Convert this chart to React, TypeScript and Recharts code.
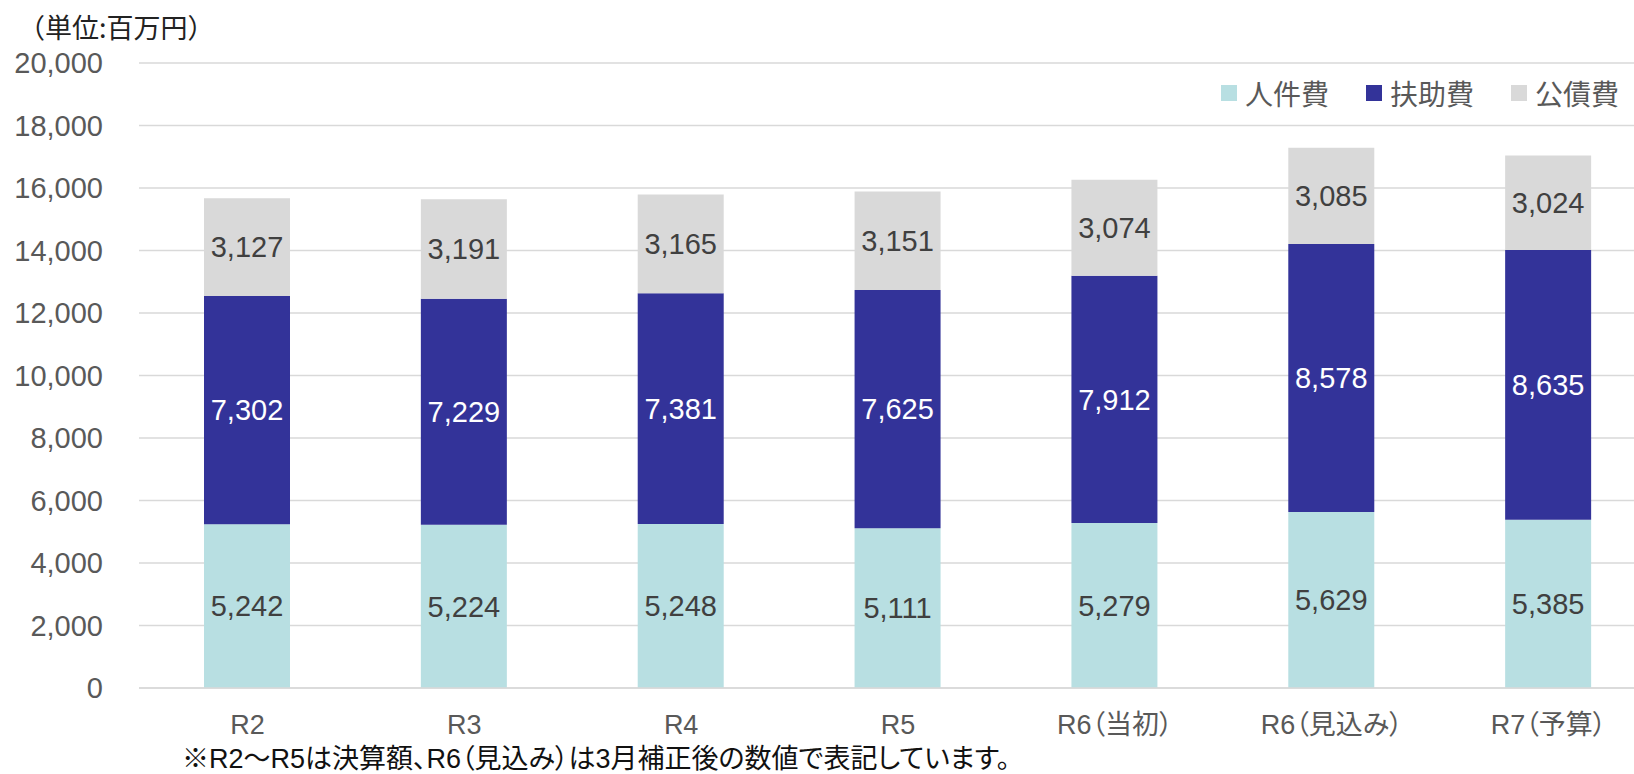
import { BarChart, Bar, XAxis, YAxis, CartesianGrid, LabelList } from 'recharts';

const categories = ['R2', 'R3', 'R4', 'R5', 'R6（当初）', 'R6（見込み）', 'R7（予算）'];
const personnel = [5242, 5224, 5248, 5111, 5279, 5629, 5385];
const assistance = [7302, 7229, 7381, 7625, 7912, 8578, 8635];
const debt = [3127, 3191, 3165, 3151, 3074, 3085, 3024];
const yTicks = [0, 2000, 4000, 6000, 8000, 10000, 12000, 14000, 16000, 18000, 20000];

const series = [
  { key: 'personnel', name: '人件費', color: '#b8dfe2', text: '#404040' },
  { key: 'assistance', name: '扶助費', color: '#333399', text: '#ffffff' },
  { key: 'debt', name: '公債費', color: '#d9d9d9', text: '#404040' },
];

const data = categories.map((name, i) => ({
  name,
  personnel: personnel[i],
  assistance: assistance[i],
  debt: debt[i],
}));

const LATIN = '"Liberation Sans", Arial, "Noto Sans CJK JP", sans-serif';
const CJK = '"Noto Sans CJK JP", "Liberation Sans", sans-serif';

const XTick = ({ x, y, payload }: { x?: number; y?: number; payload?: { value: string } }) => (
  <text
    x={x}
    y={(y ?? 0) + 35}
    textAnchor="middle"
    dominantBaseline="central"
    fill="#595959"
    fontSize={27}
    style={{ fontFamily: LATIN, fontFeatureSettings: '"palt"' }}
  >
    {payload?.value}
  </text>
);

// legend drawn as an overlay so it doesn't eat into the plot area
const ChartLegend = () => (
  <div style={{ position: 'absolute', left: 1221, top: 79, display: 'flex', alignItems: 'center', fontFamily: CJK, whiteSpace: 'nowrap' }}>
    {series.map((s) => (
      <div key={s.key} style={{ display: 'flex', alignItems: 'center', marginRight: 37 }}>
        <span style={{ width: 16, height: 16, background: s.color, display: 'inline-block', marginRight: 8 }} />
        <span style={{ fontSize: 28, lineHeight: '28px', color: '#595959' }}>{s.name}</span>
      </div>
    ))}
  </div>
);

export default function App() {
  return (
    <div style={{ position: 'fixed', left: 0, top: 0, width: 1634, height: 774, overflow: 'hidden', background: '#fff' }}>
      <div style={{ position: 'absolute', left: 18, top: 13, fontSize: 27, lineHeight: '28px', color: '#222', fontFamily: CJK }}>
        （単位:百万円）
      </div>
      <BarChart
        width={1700}
        height={774}
        data={data}
        margin={{ top: 63, right: 43, left: 0, bottom: 46 }}
        barSize={86}
      >
        <CartesianGrid vertical={false} stroke="#d9d9d9" strokeWidth={1.4} />
        <XAxis
          dataKey="name"
          height={40}
          tick={<XTick />}
          tickLine={false}
          tickSize={0}
          axisLine={{ stroke: '#d9d9d9', strokeWidth: 1.6 }}
          interval={0}
        />
        <YAxis
          width={139}
          domain={[0, 20000]}
          ticks={yTicks}
          tickFormatter={(v: number) => v.toLocaleString()}
          tick={{ fontSize: 29, fill: '#595959', fontFamily: LATIN }}
          tickLine={false}
          tickSize={0}
          tickMargin={36}
          axisLine={false}
        />
        {series.map((s) => (
          <Bar key={s.key} dataKey={s.key} name={s.name} stackId="a" fill={s.color} isAnimationActive={false}>
            <LabelList
              dataKey={s.key}
              position="center"
              formatter={(v: number) => v.toLocaleString()}
              fill={s.text}
              style={{ fontSize: 29, fontFamily: LATIN }}
            />
          </Bar>
        ))}
      </BarChart>
      <ChartLegend />
      <div style={{ position: 'absolute', left: 182, top: 747, fontSize: 27, lineHeight: '24px', color: '#111', fontFamily: LATIN, whiteSpace: 'nowrap', fontFeatureSettings: '"palt"' }}>
        ※R2～R5は決算額、R6（見込み）は3月補正後の数値で表記しています。
      </div>
    </div>
  );
}
